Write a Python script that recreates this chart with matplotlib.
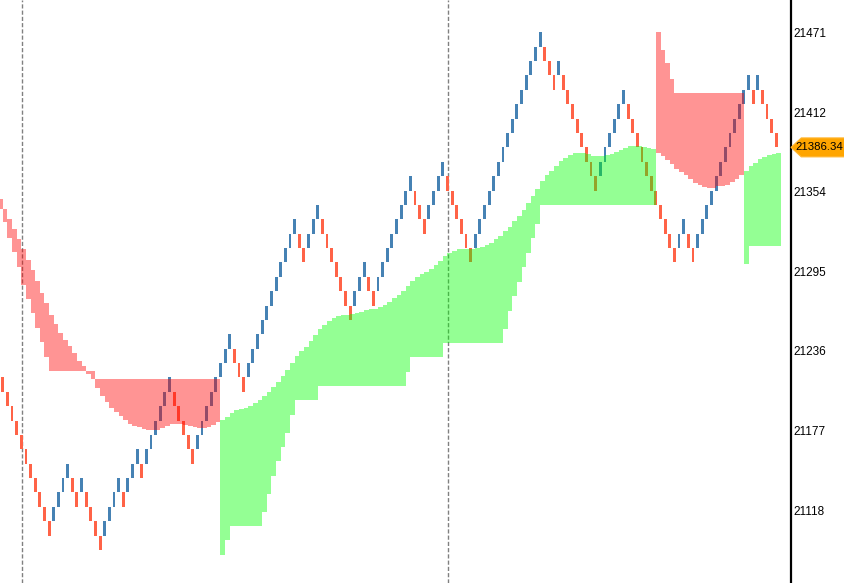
import numpy as np
import matplotlib
matplotlib.use("Agg")
import matplotlib.pyplot as plt
from matplotlib.patches import Polygon
from matplotlib.transforms import blended_transform_factory

# renko bricks: last close, brick size, open level of the first brick (in bricks from last close)
last_price = 21386.34
brick_size = 10.62
first_open_level = -16
brick_dirs = ("DDDDDDDDDDD" "UUUU" "DD" "U" "DDDD" "UUUU" "D" "UUU" "D" "UUUUUU"
              "DDDDD" "UUUUUUUU" "DDD" "UUUUUUUUUUU" "DD" "UUU" "DDDDDDD" "UUU" "DD"
              "UUUUUUUU" "DDD" "UUUU" "DDDDDD" "UUUUUUUUUUUUUUU" "DDD" "U" "DDDDDDDD"
              "UUUUUU" "DDDDDDDDDDD" "UU" "DD" "UUUUUUUUUUUU" "D" "U" "DDDD")

# band lines, one value per brick column starting at column -1
ma_line = [
    21348.0, 21340.8, 21333.2, 21326.4, 21318.4, 21311.0, 21302.9, 21295.5, 21287.3, 21279.1,
    21271.2, 21262.3, 21255.6, 21249.0, 21243.8, 21239.4, 21234.2, 21228.3, 21224.6, 21219.2,
    21215.0, 21208.9, 21202.5, 21198.3, 21193.8, 21190.6, 21188.2, 21184.7, 21182.3, 21180.9,
    21179.6, 21178.1, 21177.5, 21177.3, 21177.6, 21178.8, 21180.7, 21182.3, 21182.3, 21181.8,
    21181.3, 21180.4, 21179.8, 21178.8, 21179.3, 21179.9, 21181.3, 21183.6, 21184.7, 21187.2,
    21189.9, 21192.3, 21192.9, 21193.8, 21195.3, 21197.3, 21199.5, 21202.5, 21205.4, 21209.1,
    21212.8, 21217.2, 21221.7, 21226.8, 21232.0, 21235.7, 21238.9, 21243.6, 21247.7, 21251.9,
    21255.4, 21257.9, 21260.1, 21261.8, 21262.5, 21262.5, 21263.0, 21263.8, 21265.0, 21266.0,
    21266.7, 21267.2, 21268.4, 21269.9, 21272.1, 21274.8, 21277.3, 21280.2, 21283.9, 21287.4,
    21290.6, 21292.6, 21294.3, 21296.3, 21299.4, 21302.2, 21305.9, 21308.6, 21310.1, 21311.0,
    21311.0, 21311.0, 21311.4, 21312.1, 21312.7, 21314.0, 21315.5, 21318.4, 21320.9, 21324.3,
    21327.3, 21331.7, 21335.4, 21339.8, 21345.0, 21350.2, 21355.3, 21361.3, 21365.7, 21369.2,
    21372.6, 21376.0, 21378.2, 21380.5, 21381.9, 21382.5, 21382.5, 21381.4, 21379.7, 21379.7,
    21379.9, 21380.5, 21381.4, 21383.2, 21384.4, 21385.9, 21387.1, 21387.1, 21387.1, 21386.4,
    21385.9, 21384.9, 21382.5, 21379.9, 21377.0, 21373.8, 21370.6, 21368.1, 21365.7, 21363.1,
    21360.2, 21358.3, 21356.8, 21356.3, 21356.6, 21357.6, 21357.8, 21358.7, 21360.5, 21363.3,
    21366.2, 21368.9, 21372.6, 21374.6, 21377.5, 21379.5, 21380.7, 21381.4, 21381.9,
]
trail_line = (
    [21341.1, 21331.0, 21319.4, 21309.0, 21298.0, 21284.4, 21274.1, 21263.8, 21253.1, 21242.3, 21231.3]
    + [21221.1] * 10 + [21215.0] * 27
    + [21085.2, 21096.3] + [21106.7] * 7
    + [21117.0, 21130.1, 21143.6, 21154.7, 21165.0, 21175.5, 21188.6]
    + [21199.7] * 5 + [21210.1] * 19 + [21220.4] + [21231.6] * 7 + [21242.0] * 13
    + [21251.9, 21265.2, 21276.5, 21286.7, 21297.7, 21308.4, 21319.2, 21329.9]
    + [21343.5] * 25
    + [21471.5, 21458.0, 21448.4, 21436.6] + [21426.3] * 15
    + [21300.0] + [21313.5] * 7
)
# trend runs: (+1 up / -1 down, number of columns)
trend_runs = [(-1, 48), (1, 94), (-1, 19), (1, 8)]

y_ticks = [21471, 21412, 21354, 21295, 21236, 21177, 21118]
session_breaks = [4.15, 96.1]

assert len(ma_line) == len(trail_line) == sum(n for _, n in trend_runs)

# build renko bricks
opens, closes, dirs = [], [], []
for i, ch in enumerate(brick_dirs):
    d = 1 if ch == "U" else -1
    if i == 0:
        o = last_price + first_open_level * brick_size
    elif d == dirs[-1]:
        o = closes[-1]
    else:
        o = opens[-1]
    opens.append(o)
    closes.append(o + d * brick_size)
    dirs.append(d)
opens, closes = np.array(opens), np.array(closes)
idx = np.arange(len(brick_dirs))

fig = plt.figure(figsize=(8.45, 5.83), dpi=100)
ax = fig.add_axes([0, 0, 791 / 845, 1])

for xb in session_breaks:
    ax.axvline(xb, color="#808080", lw=1.0, ls=(0, (3, 1.5)), zorder=1)

cols = ["#4682B4" if d > 0 else "#FF6347" for d in dirs]
ax.bar(idx, np.abs(closes - opens), bottom=np.minimum(opens, closes),
       width=0.62, color=cols, linewidth=0, zorder=2)

ma = np.array(ma_line)
tr = np.array(trail_line)
start = 0
col0 = -1
for sign, n in trend_runs:
    xs = np.arange(col0 + start, col0 + start + n + 1)
    a = np.append(ma[start:start + n], ma[start + n - 1])
    b = np.append(tr[start:start + n], tr[start + n - 1])
    ax.fill_between(xs, a, b, step="post", color="#00ff00" if sign > 0 else "#ff0000",
                    alpha=0.42, linewidth=0, zorder=3)
    start += n

ax.set_xlim(-0.6045, 170.17)
ax.set_ylim(21064.6, 21495.2)

for s in ["left", "top", "bottom"]:
    ax.spines[s].set_visible(False)
ax.spines["right"].set_linewidth(1.6)
ax.spines["right"].set_color("black")
ax.set_xticks([])
ax.yaxis.tick_right()
ax.set_yticks(y_ticks)
ax.set_yticklabels([str(t) for t in y_ticks])
ax.tick_params(axis="y", length=0, pad=2, labelsize=8.5)
for lab in ax.get_yticklabels():
    lab.set_fontfamily("Liberation Sans")

# last price tag
tf = blended_transform_factory(ax.transAxes, ax.transData)
h = 7.0
tag = Polygon([(1.0, last_price), (1.013, last_price + h), (1.07, last_price + h),
               (1.07, last_price - h), (1.013, last_price - h)],
              closed=True, transform=tf, facecolor="#FFA500", edgecolor="#FFB733",
              lw=0.8, clip_on=False, zorder=5)
ax.add_patch(tag)
ax.text(1.006, last_price, f"{last_price:.2f}", transform=tf, ha="left", va="center",
        fontsize=8.2, fontfamily="Liberation Sans", color="black", clip_on=False, zorder=6)

fig.savefig("out.png", dpi=100)
